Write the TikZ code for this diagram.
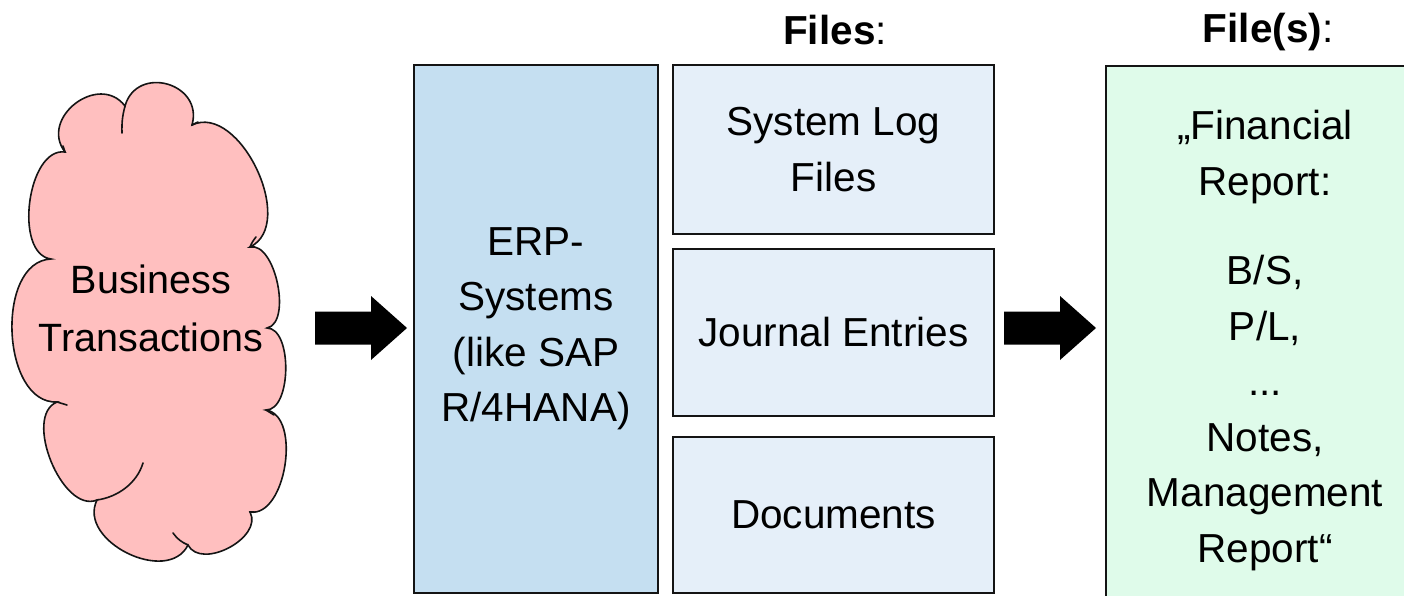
\documentclass[tikz,border=0pt]{standalone}
\usepackage{fontspec}
\setmainfont{Liberation Sans}

\definecolor{cloudpink}{RGB}{255,191,191}
\definecolor{erpblue}{RGB}{197,223,241}
\definecolor{fileblue}{RGB}{229,239,249}
\definecolor{reportgreen}{RGB}{223,251,234}
\definecolor{edge}{RGB}{20,20,20}

\tikzset{
  bigtext/.style={font=\fontsize{40.5}{55.5}\selectfont, align=center},
  panel/.style={draw=edge, line width=2pt, inner sep=0pt, bigtext},
  filebox/.style={panel, fill=fileblue, minimum width=321pt},
  blockarrow/.style={fill=black, draw=none},
  cloudline/.style={draw=edge, line width=1.6pt},
  title/.style={font=\fontsize{40.5}{48}\selectfont, inner sep=0pt}
}

% block arrow: tail at #1, pointing right, centred on the horizontal line through #1
\newcommand{\blockarrowat}[1]{%
  \fill[blockarrow, shift={(#1)}]
    (0,16.5) -- (56,16.5) -- (56,32) -- (92,0) -- (56,-32) -- (56,-16.5)
    -- (0,-16.5) -- cycle;}

\begin{document}
\begin{tikzpicture}[x=1pt, y=1pt]
\useasboundingbox (0,0) rectangle (1404,595);

% cloud outline built from bulging arcs between cusps
\coordinate (c1) at (65,443);
\coordinate (c2) at (125,489);
\coordinate (c3) at (192,470);
\coordinate (c4) at (250,348);
\coordinate (c5) at (267,267);
\coordinate (c6) at (266,185);
\coordinate (c7) at (250,83);
\coordinate (c8) at (188,50);
\coordinate (c9) at (97,95);
\coordinate (c10) at (57,193);
\coordinate (c11) at (51,336);
\draw[cloudline, fill=cloudpink]
  (c1) to[bend left=90, looseness=1.45] (c2)
       to[bend left=90, looseness=1.6] (c3)
       to[bend left=90, looseness=1.0] (c4)
       to[bend left=90, looseness=0.8] (c5)
       to[bend left=90, looseness=0.8] (c6)
       to[bend left=90, looseness=0.9] (c7)
       to[bend left=90, looseness=1.05] (c8)
       to[bend left=90, looseness=1.15] (c9)
       to[bend left=90, looseness=0.9] (c10)
       to[bend left=90, looseness=1.0] (c11)
       to[bend left=90, looseness=0.9] (c1) -- cycle;
% short inner strokes where the bumps overlap
\begin{scope}[cloudline, line cap=round]
  \draw (c1) -- (63,449);
  \draw (c2) to[bend right=8] (122,462);
  \draw (c3) -- (198,473);
  \draw (c4) to[bend left=8] (256,358);
  \draw (c6) -- (274,180);
  \draw (c7) -- (254,83);
  \draw (c8) to[bend left=15] (173,62);
  \draw (c9) .. controls (118,98) and (137,112) .. (143,132);
  \draw (c10) -- (67,190);
\end{scope}
\node[bigtext, font=\fontsize{39.5}{58.5}\selectfont, inner sep=0pt]
  (bt) at (151,286.5) {Business\\Transactions};

% ERP system
\node[panel, fill=erpblue, minimum width=244pt, minimum height=528pt]
  (erp) at (536,266) {ERP-\\Systems\\(like SAP\\R/4HANA)};

% extracted files
\node[filebox, minimum height=169pt] (log) at (833.5,445.5) {System Log\\Files};
\node[filebox, minimum height=167pt] (je) at (833.5,262.5) {Journal Entries};
\node[filebox, minimum height=156pt] (doc) at (833.5,80) {Documents};
\node[title] (filestitle) at (835,565) {\textbf{Files}:};

% resulting report
\node[panel, fill=reportgreen, minimum width=315pt, minimum height=560pt,
  anchor=north west] (report) at (1105,530) {};
\node[bigtext, inner sep=0pt, anchor=north] (reporttext) at (1265,485)
  {„Financial\\Report:\\[34pt]B/S,\\P/L,\\...\\Notes,\\Management\\Report“};
\node[title] (reporttitle) at (1268,563) {\textbf{File(s)}:};

% flow arrows between the stages
\coordinate (a1) at (315,267);
\coordinate (a2) at (1004,267);
\blockarrowat{a1}
\blockarrowat{a2}
\end{tikzpicture}
\end{document}
